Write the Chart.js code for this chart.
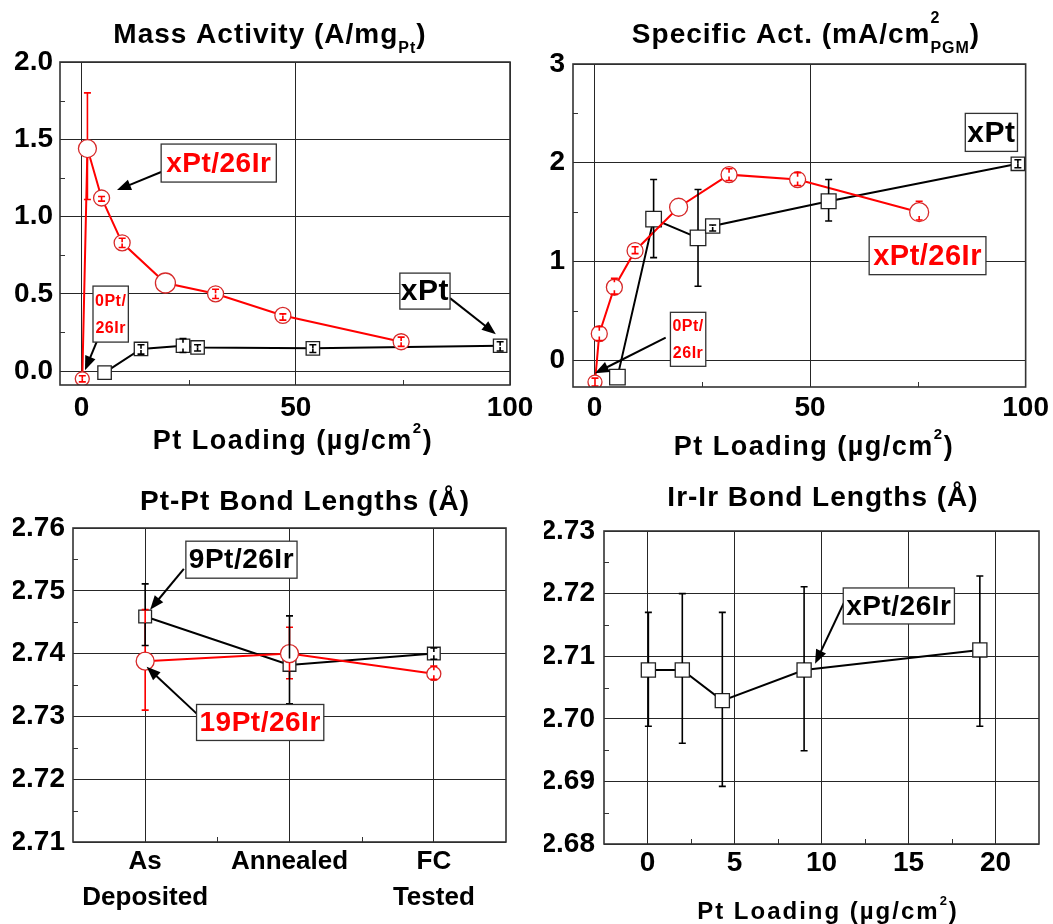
<!DOCTYPE html>
<html><head><meta charset="utf-8">
<script src="https://cdn.jsdelivr.net/npm/chart.js@4.4.1/dist/chart.umd.min.js"></script>
<style>
html,body{margin:0;padding:0;background:#fff;}
#wrap{position:relative;width:1053px;height:924px;overflow:hidden;background:#fff;}
canvas{position:absolute;left:0;top:0;}
</style></head><body>
<div id="wrap">
<canvas id="c1" width="1053" height="924"></canvas>
<canvas id="c2" width="1053" height="924"></canvas>
<canvas id="c3" width="1053" height="924"></canvas>
<canvas id="c4" width="1053" height="924"></canvas>
</div>
<script>
// ---------- DATA ----------
// Mass activity (A/mg Pt)
const massPtIrX  = [0.2, 1.4, 4.7, 9.5, 19.6, 31.3, 47.0, 74.6];
const massPtIrY  = [-0.05, 1.44, 1.12, 0.83, 0.57, 0.50, 0.36, 0.19];
const massPtIrLo = [-0.07, 1.11, 1.10, 0.80, null, 0.47, 0.33, 0.16];
const massPtIrHi = [-0.03, 1.80, 1.13, 0.86, null, 0.53, 0.37, 0.22];
const massPtX  = [5.4, 13.9, 23.7, 27.1, 54.0, 97.7];
const massPtY  = [-0.01, 0.143, 0.164, 0.153, 0.147, 0.164];
const massPtLo = [null, 0.11, 0.12, 0.13, 0.12, 0.13];
const massPtHi = [null, 0.17, 0.21, 0.17, 0.17, 0.19];
const massXTicks = [0, 50, 100];
const massYTicks = [0, 0.5, 1.0, 1.5, 2.0];

// Specific activity (mA/cm2 PGM)
const specPtIrX  = [0.1, 1.1, 4.6, 9.4, 19.5, 31.2, 47.1, 75.3];
const specPtIrY  = [-0.22, 0.27, 0.74, 1.11, 1.55, 1.88, 1.83, 1.50];
const specPtIrLo = [-0.26, 0.20, 0.67, 1.08, null, 1.82, 1.77, 1.42];
const specPtIrHi = [-0.18, 0.34, 0.83, 1.15, null, 1.94, 1.90, 1.61];
const specPtX  = [5.3, 13.7, 24.0, 27.4, 54.3, 98.2];
const specPtY  = [-0.17, 1.43, 1.24, 1.36, 1.61, 1.99];
const specPtLo = [null, 1.04, 0.75, 1.31, 1.41, 1.95];
const specPtHi = [null, 1.83, 1.73, 1.37, 1.83, 2.03];
const specXTicks = [0, 50, 100];
const specYTicks = [0, 1, 2, 3];

// Pt-Pt bond lengths (Å)
const bondCategories = [['As', 'Deposited'], 'Annealed', ['FC', 'Tested']];
const ptpt19Y  = [2.7388, 2.7400, 2.7368];
const ptpt19Lo = [2.7310, 2.7360, 2.7359];
const ptpt19Hi = [2.7470, 2.7442, 2.7380];
const ptpt9Y   = [2.7459, 2.7382, 2.7400];
const ptpt9Lo  = [2.7413, 2.7320, 2.7391];
const ptpt9Hi  = [2.7511, 2.7460, 2.7409];
const ptptYTicks = [2.71, 2.72, 2.73, 2.74, 2.75, 2.76];

// Ir-Ir bond lengths (Å)
const irX  = [0.05, 2.0, 4.3, 9.0, 19.1];
const irY  = [2.7078, 2.7078, 2.7029, 2.7078, 2.7110];
const irLo = [2.6988, 2.6961, 2.6892, 2.6949, 2.6988];
const irHi = [2.7170, 2.7200, 2.7170, 2.7211, 2.7228];
const irXTicks = [0, 5, 10, 15, 20];
const irYTicks = [2.68, 2.69, 2.70, 2.71, 2.72, 2.73];

// ---------- RENDERING ----------
const FONT = "'Liberation Sans', Arial, Helvetica, sans-serif";
Chart.defaults.font.family = FONT;
Chart.defaults.font.weight = 'bold';
Chart.defaults.color = '#000';
Chart.defaults.animation = false;

const RED = '#ff0000';
const xy = (xs, ys) => xs.map((v, i) => ({x: v, y: ys[i]}));
const F = s => `bold ${s}px ${FONT}`;

function setSpacing(ctx, sp) { if ('letterSpacing' in ctx) ctx.letterSpacing = sp + 'px'; }

function richText(ctx, spec) {
  const {parts, cx, y, size, sp} = spec;
  ctx.save();
  ctx.fillStyle = '#000'; ctx.textAlign = 'left'; ctx.textBaseline = 'alphabetic';
  setSpacing(ctx, sp || 0);
  const small = Math.round(size * 0.56);
  const widths = parts.map(p => {
    if (p.k === 'n') { ctx.font = F(size); return ctx.measureText(p.t).width; }
    ctx.font = F(small);
    if (p.k === 'stack') return Math.max(ctx.measureText(p.t).width, ctx.measureText(p.s).width);
    return ctx.measureText(p.t).width;
  });
  let x = cx - widths.reduce((a, b) => a + b, 0) / 2;
  parts.forEach((p, i) => {
    if (p.k === 'n') { ctx.font = F(size); ctx.fillText(p.t, x, y); }
    else {
      ctx.font = F(small);
      if (p.k === 'sub') ctx.fillText(p.t, x, y + size * 0.36);
      if (p.k === 'sup') ctx.fillText(p.t, x, y - size * 0.6);
      if (p.k === 'stack') { ctx.fillText(p.t, x, y + size * 0.36); ctx.fillText(p.s, x, y - size * 0.72); }
    }
    x += widths[i];
  });
  ctx.restore();
}

function drawArrow(ctx, x1, y1, x2, y2) {
  const a = Math.atan2(y2 - y1, x2 - x1), L = 14, W = 5.5;
  const c = Math.cos(a), s = Math.sin(a);
  ctx.beginPath(); ctx.moveTo(x1, y1); ctx.lineTo(x2 - L * 0.8 * c, y2 - L * 0.8 * s); ctx.stroke();
  ctx.beginPath(); ctx.moveTo(x2, y2);
  ctx.lineTo(x2 - L * c + W * s, y2 - L * s - W * c);
  ctx.lineTo(x2 - L * c - W * s, y2 - L * s + W * c);
  ctx.closePath(); ctx.fill();
}

const decoPlugin = {
  id: 'deco',
  afterDatasetsDraw(chart, args, opts) {
    const {ctx, chartArea: a, scales: {x: xs, y: ys}} = chart;
    // error bars
    chart.data.datasets.forEach((ds, di) => {
      if (!ds.errLo) return;
      const meta = chart.getDatasetMeta(di);
      ctx.save(); ctx.strokeStyle = ds.errColor; ctx.lineWidth = 1.6;
      meta.data.forEach((pt, i) => {
        const lo = ds.errLo[i], hi = ds.errHi[i];
        if (lo == null || hi == null) return;
        const r = pt.options.radius;
        const half = pt.options.pointStyle === 'rect' ? r * Math.SQRT1_2 : r;
        [hi, lo].forEach(v => {
          const ey = ys.getPixelForValue(v), d = ey - pt.y, sg = d >= 0 ? 1 : -1;
          ctx.beginPath();
          if (Math.abs(d) > half + 1) { ctx.moveTo(pt.x, pt.y + sg * half); ctx.lineTo(pt.x, ey); }
          else { ctx.moveTo(pt.x, ey); ctx.lineTo(pt.x, ey - sg * Math.min(4, Math.abs(d))); }
          ctx.moveTo(pt.x - 3.5, ey); ctx.lineTo(pt.x + 3.5, ey);
          ctx.stroke();
        });
      });
      ctx.restore();
    });
    // minor ticks at midpoints of the major ticks
    const mids = s => { const t = s.ticks.map(k => k.value), o = []; for (let i = 0; i < t.length - 1; i++) o.push((t[i] + t[i + 1]) / 2); return o; };
    ctx.save(); ctx.strokeStyle = '#333'; ctx.lineWidth = 1;
    mids(ys).forEach(v => { const p = Math.round(ys.getPixelForValue(v)) + 0.5; ctx.beginPath(); ctx.moveTo(a.left, p); ctx.lineTo(a.left + 5, p); ctx.stroke(); });
    mids(xs).forEach(v => { const p = Math.round(xs.getPixelForValue(v)) + 0.5; ctx.beginPath(); ctx.moveTo(p, a.bottom); ctx.lineTo(p, a.bottom - 5); ctx.stroke(); });
    // frame
    ctx.strokeStyle = '#333'; ctx.lineWidth = 1.6;
    ctx.strokeRect(a.left, a.top, a.right - a.left, a.bottom - a.top);
    ctx.restore();
  },
  afterDraw(chart, args, opts) {
    const {ctx, scales: {x: xs, y: ys}} = chart;
    const px = v => xs.getPixelForValue(v);
    if (opts.title) richText(ctx, opts.title);
    if (opts.xtitle) richText(ctx, opts.xtitle);
    ctx.save();
    ctx.strokeStyle = '#000'; ctx.fillStyle = '#000'; ctx.lineWidth = 2;
    (opts.arrows || []).forEach(ar => {
      drawArrow(ctx, px(ar.from[0]), ys.getPixelForValue(ar.from[1]), px(ar.to[0]), ys.getPixelForValue(ar.to[1]));
    });
    ctx.restore();
    (opts.boxes || []).forEach(b => {
      ctx.save();
      ctx.font = F(b.size); setSpacing(ctx, b.sp == null ? 0.5 : b.sp);
      const tw = Math.max(...b.lines.map(l => ctx.measureText(l).width));
      const w = tw + 2 * b.padX, h = b.lines.length * b.lh + 2 * b.padY;
      const x0 = px(b.x), y0 = ys.getPixelForValue(b.y);
      ctx.fillStyle = '#fff'; ctx.fillRect(x0, y0, w, h);
      ctx.strokeStyle = '#333'; ctx.lineWidth = 1.3; ctx.strokeRect(x0, y0, w, h);
      ctx.fillStyle = b.color; ctx.textAlign = 'center'; ctx.textBaseline = 'middle';
      b.lines.forEach((l, i) => ctx.fillText(l, x0 + w / 2, y0 + b.padY + b.lh * (i + 0.5) + 1));
      ctx.restore();
    });
  }
};

function linAxis(min, max, ticks, fmt, size, pad, fit, horiz) {
  return {
    type: 'linear', min, max,
    afterBuildTicks: ax => { ax.ticks = ticks.map(v => ({value: v})); },
    afterFit: ax => { if (horiz) ax.height = fit; else ax.width = fit; },
    grid: {color: '#262626', lineWidth: 1, drawTicks: false},
    border: {display: false},
    ticks: {callback: fmt, font: {size, weight: 'bold'}, color: '#000', padding: pad, maxRotation: 0, autoSkip: false}
  };
}

function panel(id, cfg) {
  return new Chart(document.getElementById(id), {
    type: 'line',
    data: {labels: cfg.labels, datasets: cfg.datasets},
    options: {
      responsive: false, animation: false, events: [],
      layout: {padding: cfg.pad},
      elements: {line: {tension: 0}},
      plugins: {legend: {display: false}, title: {display: false}, tooltip: {enabled: false}, deco: cfg.deco},
      scales: {x: cfg.x, y: cfg.y}
    },
    plugins: [decoPlugin]
  });
}

const redSet = (data, lo, hi, radius) => ({
  data, errLo: lo, errHi: hi, errColor: RED,
  borderColor: RED, borderWidth: 2, pointStyle: 'circle', pointRadius: radius,
  pointBorderColor: '#d62a2a', pointBackgroundColor: '#fff', pointBorderWidth: 1.3
});
const blackSet = (data, lo, hi, radius) => ({
  data, errLo: lo, errHi: hi, errColor: '#000',
  borderColor: '#000', borderWidth: 2, pointStyle: 'rect', pointRadius: radius,
  pointBorderColor: '#222', pointBackgroundColor: '#fff', pointBorderWidth: 1.3
});

const loadingTitle = [{k: 'n', t: 'Pt Loading (µg/cm'}, {k: 'sup', t: '2'}, {k: 'n', t: ')'}];

// Panel 1: Mass activity
panel('c1', {
  pad: {left: 0, right: 543, top: 62, bottom: 489},
  datasets: [
    redSet(xy(massPtIrX, massPtIrY), massPtIrLo, massPtIrHi, [7, 9, 8, 8, 10, 8, 8, 8]),
    blackSet(xy(massPtX, massPtY), massPtLo, massPtHi, 9.5)
  ],
  x: linAxis(-5, 100, massXTicks, v => String(v), 28, 6, 50, true),
  y: linAxis(-0.09, 2.0, massYTicks, v => v.toFixed(1), 28, 7, 60, false),
  deco: {
    title: {parts: [{k: 'n', t: 'Mass Activity (A/mg'}, {k: 'sub', t: 'Pt'}, {k: 'n', t: ')'}], cx: 270, y: 43, size: 28, sp: 1},
    xtitle: {parts: loadingTitle, cx: 293, y: 449, size: 27, sp: 1.5},
    boxes: [
      {x: 18.6, y: 1.469, lines: ['xPt/26Ir'], color: RED, size: 28, lh: 32, padX: 5, padY: 3},
      {x: 2.7, y: 0.550, lines: ['0Pt/', '26Ir'], color: RED, size: 16, lh: 27, padX: 2, padY: 1},
      {x: 74.3, y: 0.634, lines: ['xPt'], color: '#000', size: 30, lh: 32, padX: 1, padY: 2}
    ],
    arrows: [
      {from: [18.6, 1.288], to: [8.3, 1.171]},
      {from: [3.63, 0.194], to: [0.83, 0.006]},
      {from: [86.0, 0.472], to: [96.7, 0.239]}
    ]
  }
});

// Panel 2: Specific activity
panel('c2', {
  pad: {left: 513, right: 26, top: 64, bottom: 487},
  datasets: [
    redSet(xy(specPtIrX, specPtIrY), specPtIrLo, specPtIrHi, [7, 8, 8, 8, 9, 8, 8, 9.5]),
    blackSet(xy(specPtX, specPtY), specPtLo, specPtHi, [11, 11, 11, 10, 10.5, 9.5])
  ],
  x: linAxis(-5, 100, specXTicks, v => String(v), 28, 4, 50, true),
  y: linAxis(-0.27, 3, specYTicks, v => String(v), 28, 8, 60, false),
  deco: {
    title: {parts: [{k: 'n', t: 'Specific Act. (mA/cm'}, {k: 'stack', t: 'PGM', s: '2'}, {k: 'n', t: ')'}], cx: 806, y: 43, size: 28, sp: 1},
    xtitle: {parts: loadingTitle, cx: 814, y: 455, size: 27, sp: 1.5},
    boxes: [
      {x: 86.0, y: 2.50, lines: ['xPt'], color: '#000', size: 30, lh: 34, padX: 2, padY: 2},
      {x: 63.7, y: 1.252, lines: ['xPt/26Ir'], color: RED, size: 29, lh: 34, padX: 4, padY: 2},
      {x: 17.6, y: 0.486, lines: ['0Pt/', '26Ir'], color: RED, size: 16, lh: 27, padX: 2, padY: 0}
    ],
    arrows: [
      {from: [16.5, 0.229], to: [0.09, -0.131]}
    ]
  }
});

// Panel 3: Pt-Pt bond lengths
const catAxis = {
  type: 'category', offset: true,
  afterFit: ax => { ax.height = 80; },
  grid: {color: '#262626', lineWidth: 1, drawTicks: false, offset: false},
  border: {display: false},
  ticks: {font: {size: 26, weight: 'bold', lineHeight: 1.385}, color: '#000', padding: 2, maxRotation: 0, autoSkip: false}
};
panel('c3', {
  pad: {left: 13, right: 547, top: 528, bottom: 2},
  labels: bondCategories,
  datasets: [
    redSet(ptpt19Y, ptpt19Lo, ptpt19Hi, [9, 9, 7]),
    blackSet(ptpt9Y, ptpt9Lo, ptpt9Hi, 9)
  ],
  x: catAxis,
  y: linAxis(2.71, 2.76, ptptYTicks, v => v.toFixed(2), 28, 8, 60, false),
  deco: {
    title: {parts: [{k: 'n', t: 'Pt-Pt Bond Lengths (Å)'}], cx: 305, y: 510, size: 28, sp: 1},
    boxes: [
      {x: 0.282, y: 2.7579, lines: ['9Pt/26Ir'], color: '#000', size: 28, lh: 33, padX: 3, padY: 2},
      {x: 0.356, y: 2.7319, lines: ['19Pt/26Ir'], color: RED, size: 28, lh: 32, padX: 3, padY: 2}
    ],
    arrows: [
      {from: [0.268, 2.7535], to: [0.034, 2.7470]},
      {from: [0.368, 2.7302], to: [0.010, 2.7379]}
    ]
  }
});

// Panel 4: Ir-Ir bond lengths
panel('c4', {
  pad: {left: 544, right: 14, top: 531, bottom: 30},
  datasets: [
    blackSet(xy(irX, irY), irLo, irHi, 10)
  ],
  x: linAxis(-2.5, 22.5, irXTicks, v => String(v), 28, 2, 50, true),
  y: linAxis(2.68, 2.73, irYTicks, v => v.toFixed(2), 28, 9, 60, false),
  deco: {
    title: {parts: [{k: 'n', t: 'Ir-Ir Bond Lengths (Å)'}], cx: 823, y: 506, size: 28, sp: 1},
    xtitle: {parts: loadingTitle, cx: 828, y: 919, size: 24, sp: 2},
    boxes: [
      {x: 11.25, y: 2.7209, lines: ['xPt/26Ir'], color: '#000', size: 28, lh: 32, padX: 3, padY: 2}
    ],
    arrows: [
      {from: [11.35, 2.7189], to: [9.63, 2.7088]}
    ]
  }
});
</script>
</body></html>
